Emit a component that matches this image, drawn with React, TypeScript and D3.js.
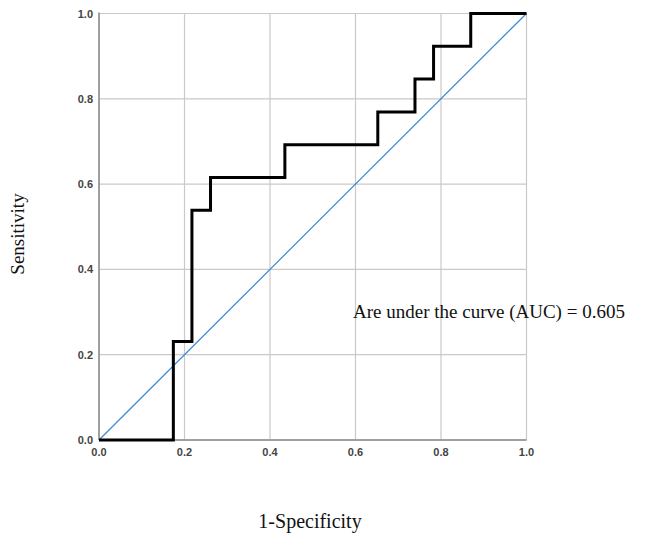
import React, { useEffect, useRef } from "react";
import * as d3 from "d3";

// ROC curve points (1-specificity, sensitivity)
const fprValues = [0, 4 / 23, 4 / 23, 5 / 23, 5 / 23, 6 / 23, 6 / 23, 10 / 23, 10 / 23, 15 / 23, 15 / 23, 17 / 23, 17 / 23, 18 / 23, 18 / 23, 20 / 23, 20 / 23, 1];
const tprValues = [0, 0, 3 / 13, 3 / 13, 7 / 13, 7 / 13, 8 / 13, 8 / 13, 9 / 13, 9 / 13, 10 / 13, 10 / 13, 11 / 13, 11 / 13, 12 / 13, 12 / 13, 1, 1];
const tickValues = [0, 0.2, 0.4, 0.6, 0.8, 1.0];
const tickLabels = ["0.0", "0.2", "0.4", "0.6", "0.8", "1.0"];
const aucText = "Are under the curve (AUC) = 0.605";

const App = () => {
  const ref = useRef<SVGSVGElement>(null);

  useEffect(() => {
    const svg = d3.select(ref.current);
    svg.selectAll("*").remove();

    const left = 99;
    const right = 526.5;
    const top = 13.5;
    const bottom = 440;

    const x = d3.scaleLinear().domain([0, 1]).range([left, right]);
    const y = d3.scaleLinear().domain([0, 1]).range([bottom, top]);

    // gridlines
    const grid = svg.append("g");
    tickValues.forEach((t) => {
      grid
        .append("line")
        .attr("x1", x(t))
        .attr("x2", x(t))
        .attr("y1", top)
        .attr("y2", bottom)
        .attr("stroke", "#c9c9c9")
        .attr("stroke-width", 1.2);
      grid
        .append("line")
        .attr("x1", left)
        .attr("x2", right)
        .attr("y1", y(t))
        .attr("y2", y(t))
        .attr("stroke", "#c9c9c9")
        .attr("stroke-width", 1.2);
    });

    // axis lines
    svg
      .append("line")
      .attr("x1", left)
      .attr("x2", left)
      .attr("y1", top - 1)
      .attr("y2", bottom)
      .attr("stroke", "#8a8a8a")
      .attr("stroke-width", 1.5);
    svg
      .append("line")
      .attr("x1", left)
      .attr("x2", right)
      .attr("y1", bottom)
      .attr("y2", bottom)
      .attr("stroke", "#8a8a8a")
      .attr("stroke-width", 1.5);

    // tick labels
    svg
      .append("g")
      .selectAll("text")
      .data(tickValues)
      .enter()
      .append("text")
      .attr("x", 93)
      .attr("y", (d) => y(d) + 4)
      .attr("text-anchor", "end")
      .attr("font-family", "Liberation Sans, Arial, sans-serif")
      .attr("font-size", 11)
      .attr("font-weight", "bold")
      .attr("fill", "#444")
      .text((d, i) => tickLabels[i]);
    svg
      .append("g")
      .selectAll("text")
      .data(tickValues)
      .enter()
      .append("text")
      .attr("x", (d) => x(d))
      .attr("y", 456)
      .attr("text-anchor", "middle")
      .attr("font-family", "Liberation Sans, Arial, sans-serif")
      .attr("font-size", 11)
      .attr("font-weight", "bold")
      .attr("fill", "#444")
      .text((d, i) => tickLabels[i]);

    // reference diagonal
    svg
      .append("line")
      .attr("x1", x(0))
      .attr("y1", y(0))
      .attr("x2", x(1))
      .attr("y2", y(1))
      .attr("stroke", "#3d88c9")
      .attr("stroke-width", 1.2);

    // ROC curve
    const pts = fprValues.map((f, i) => [f, tprValues[i]] as [number, number]);
    const line = d3
      .line<[number, number]>()
      .x((d) => x(d[0]))
      .y((d) => y(d[1]));
    svg
      .append("path")
      .attr("d", line(pts))
      .attr("fill", "none")
      .attr("stroke", "#000")
      .attr("stroke-width", 3)
      .attr("stroke-linejoin", "miter");

    // texts
    svg
      .append("text")
      .attr("x", 353)
      .attr("y", 318)
      .attr("font-family", "Liberation Serif, Times New Roman, serif")
      .attr("font-size", 19)
      .attr("fill", "#111")
      .text(aucText);

    svg
      .append("text")
      .attr("transform", "translate(24, 234) rotate(-90)")
      .attr("text-anchor", "middle")
      .attr("font-family", "Liberation Serif, Times New Roman, serif")
      .attr("font-size", 19)
      .attr("fill", "#111")
      .text("Sensitivity");

    svg
      .append("text")
      .attr("x", 310)
      .attr("y", 528)
      .attr("text-anchor", "middle")
      .attr("font-family", "Liberation Serif, Times New Roman, serif")
      .attr("font-size", 20)
      .attr("fill", "#111")
      .text("1-Specificity");
  }, []);

  return (
    <svg
      ref={ref}
      width={648}
      height={536}
      style={{ position: "absolute", left: 0, top: 0, background: "#fff" }}
    />
  );
};

export default App;
